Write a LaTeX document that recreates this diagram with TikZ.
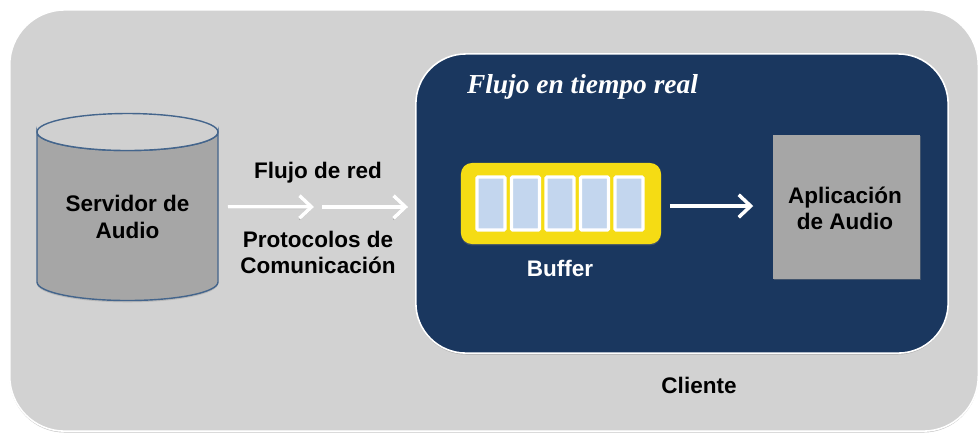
\documentclass[tikz,border=0pt]{standalone}
\usepackage{fontspec}
\setmainfont{Liberation Sans}
\newfontfamily\serifa{Liberation Serif}
\usetikzlibrary{shadows,arrows.meta}
\definecolor{panelgris}{HTML}{D2D2D2}
\definecolor{azuloscuro}{HTML}{1A375F}
\definecolor{gristapa}{HTML}{D0D0D0}
\definecolor{griscuerpo}{HTML}{A6A6A6}
\definecolor{bordeazul}{HTML}{44658C}
\definecolor{amarillo}{HTML}{F5DC14}
\definecolor{celeste}{HTML}{C3D6EE}
\tikzset{
  panel/.style={rounded corners=#1, draw=white, line width=.45pt, drop shadow={shadow xshift=0pt, shadow yshift=-.4pt, opacity=.45}},
  etiqueta/.style={font=\fontsize{6.4}{7.45}\selectfont\bfseries, align=center, inner sep=0pt},
  flecha/.style={draw=white, line width=1pt, -{Straight Barb[length=3.4pt,width=6.4pt,line width=1pt]},
    preaction={draw=black, opacity=.22, transform canvas={yshift=-.4pt}}},
  celda/.style={draw=white, line width=.9pt, fill=celeste, minimum width=.28cm, minimum height=.53cm, inner sep=0pt, rounded corners=.3pt, drop shadow={shadow xshift=.2pt, shadow yshift=-.3pt, opacity=.35}}
}
\begin{document}
\begin{tikzpicture}[x=0.01cm, y=-0.01cm]
  \useasboundingbox (0,0) rectangle (979,432);

  \node [panel=.55cm, fill=panelgris, minimum width=9.68cm, minimum height=4.21cm, inner sep=0pt] (fondo) at (494,220.5) {};
  \node [panel=.5cm, fill=azuloscuro, minimum width=5.32cm, minimum height=2.99cm, inner sep=0pt] (cliente) at (682,203.5) {};

  % cilindro
  \draw [bordeazul, line width=.4pt, fill=griscuerpo, drop shadow={shadow xshift=0pt, shadow yshift=-.5pt, opacity=.3}]
    (37,132) -- (37,282) arc [start angle=180, end angle=0, x radius=90.5, y radius=18.5] -- (218,132)
    arc [start angle=0, end angle=180, x radius=90.5, y radius=18.5] -- cycle;
  \draw [bordeazul, line width=.4pt, fill=gristapa] (127.5,132) ellipse [x radius=90.5, y radius=18.5];
  \node [minimum width=1.81cm, minimum height=1.87cm, inner sep=0pt] (servidor) at (127.5,206.5) {};
  \node [etiqueta] (servidortxt) at (127.5,217) {Servidor de\\Audio};

  \coordinate (paso) at (318,207);
  \node [etiqueta] (flujored) at (318,173) {Flujo de red};
  \node [etiqueta] (protocolos) at (318,252.5) {Protocolos de\\Comunicación};

  \draw [flecha, shorten <=.09cm, shorten >=.04cm] (servidor) -- (paso);
  \draw [flecha, shorten <=.04cm, shorten >=.07cm] (paso) -- (paso -| cliente.west);

  \node [font=\serifa\fontsize{7.8}{9}\selectfont\bfseries\itshape, text=white, inner sep=0pt] (flujoreal) at (582.5,87) {Flujo en tiempo real};

  \node [rounded corners=.11cm, fill=amarillo, minimum width=2cm, minimum height=.81cm, inner sep=0pt,
         drop shadow={shadow xshift=0pt, shadow yshift=-.4pt, opacity=.35}] (buffer) at (561,203.5) {};
  \foreach \i in {0,...,4}
    \node [celda] (celda\i) at (491+34.5*\i,203.5) {};
  \node [etiqueta, text=white] (buffertxt) at (560,268) {Buffer};

  \node [fill=griscuerpo, minimum width=1.47cm, minimum height=1.44cm, inner sep=0pt,
         drop shadow={shadow xshift=.3pt, shadow yshift=-.4pt, opacity=.4}] (aplicacion) at (846.5,207) {};
  \node [etiqueta] (aplicaciontxt) at (845,208) {Aplicación\\de Audio};

  \coordinate (salida) at (buffer.east |- 0,206);
  \draw [flecha, shorten <=.08cm, shorten >=.19cm] (salida) -- (salida -| aplicacion.west);

  \node [etiqueta] (clientetxt) at (699,385) {Cliente};
\end{tikzpicture}
\end{document}
